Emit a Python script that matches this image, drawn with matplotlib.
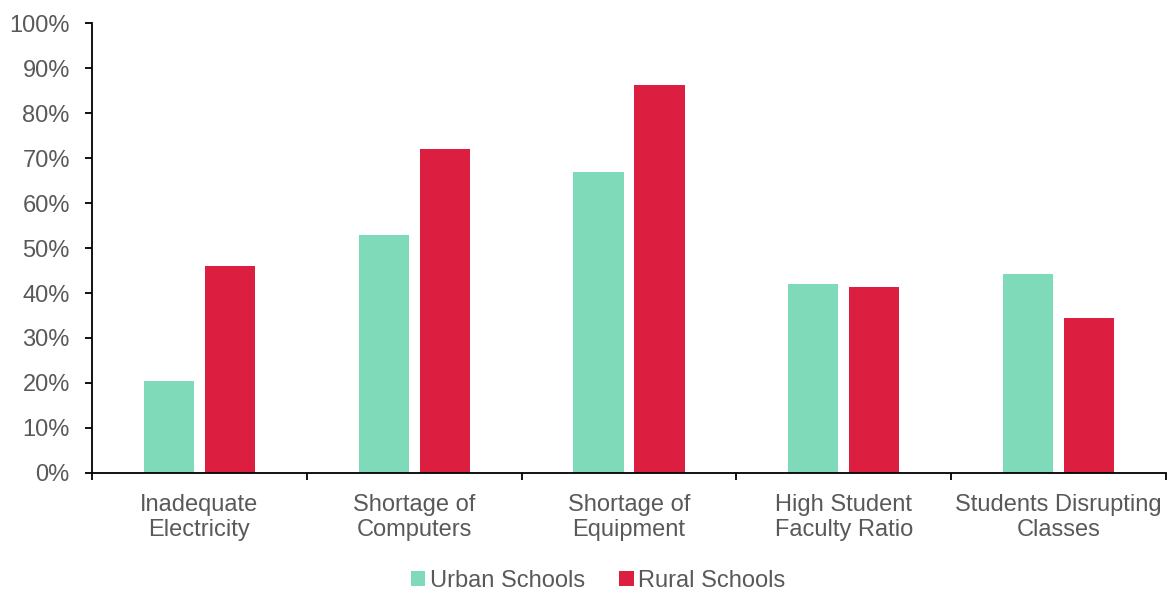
#!/usr/bin/env python3

import numpy as np
import matplotlib.pyplot as plt
from matplotlib.ticker import FixedLocator, PercentFormatter


# ---------------------------------------------------
# DATA
# ---------------------------------------------------
CATEGORIES = [
    "Inadequate\nElectricity",
    "Shortage of\nComputers",
    "Shortage of\nEquipment",
    "High Student\nFaculty Ratio",
    "Students Disrupting\nClasses",
]
URBAN = [20.5, 52.8, 67.0, 42.1, 44.2]
RURAL = [46.1, 71.9, 86.3, 41.4, 34.5]
SERIES_NAMES = ["Urban Schools", "Rural Schools"]

URBAN_COLOR = "#7FDAB9"
RURAL_COLOR = "#DC1F40"
TEXT_GREY = "#595959"


# ---------------------------------------------------
# PLOT
# ---------------------------------------------------
def main():

    plt.rcParams["font.family"] = ["Liberation Sans", "DejaVu Sans"]

    fig = plt.figure(figsize=(11.71, 5.91), dpi=100)
    ax = fig.add_axes([0.0786, 0.1997, 0.9171, 0.7613])

    x = np.arange(len(CATEGORIES))
    width = 0.233
    offset = 0.142

    ax.bar(x - offset, URBAN, width, color=URBAN_COLOR, label=SERIES_NAMES[0])
    ax.bar(x + offset, RURAL, width, color=RURAL_COLOR, label=SERIES_NAMES[1])

    ax.set_xlim(-0.5, len(CATEGORIES) - 0.5)
    ax.set_ylim(0, 100)
    ax.set_yticks(np.arange(0, 101, 10))
    ax.yaxis.set_major_formatter(PercentFormatter(decimals=0))

    # category labels centred, boundary ticks as minor ticks
    ax.set_xticks(x)
    ax.set_xticklabels(CATEGORIES, linespacing=1.2)
    ax.xaxis.set_minor_locator(FixedLocator(np.arange(-0.5, len(CATEGORIES), 1.0)))
    ax.tick_params(axis="x", which="major", length=0, pad=15,
                   labelsize=17, labelcolor=TEXT_GREY)
    ax.tick_params(axis="x", which="minor", length=5, width=1.3,
                   direction="out", color="black")
    ax.tick_params(axis="y", length=5, width=1.3, direction="out",
                   labelsize=17, labelcolor=TEXT_GREY, pad=11)

    for side in ["top", "right"]:
        ax.spines[side].set_visible(False)
    for side in ["left", "bottom"]:
        ax.spines[side].set_linewidth(1.3)
        ax.spines[side].set_color("black")

    leg = fig.legend(
        loc="center",
        bbox_to_anchor=(0.511, 0.017),
        ncol=2,
        frameon=False,
        fontsize=17,
        handlelength=0.6,
        handleheight=0.6,
        handletextpad=0.2,
        columnspacing=1.45,
    )
    for t in leg.get_texts():
        t.set_color(TEXT_GREY)

    fig.savefig("out.png", dpi=100)
    plt.close(fig)


if __name__ == "__main__":
    main()
